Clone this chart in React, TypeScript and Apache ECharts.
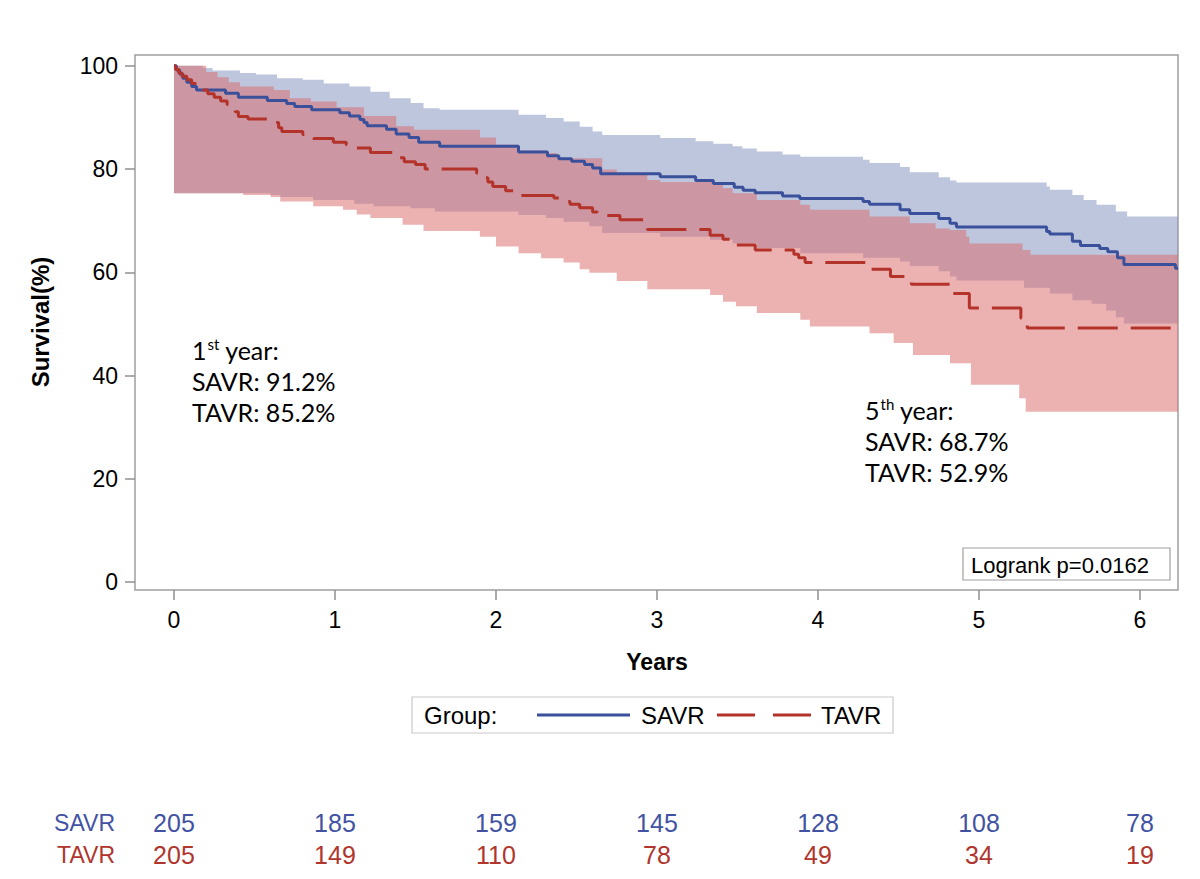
import React, { useEffect, useRef } from "react";
import * as echarts from "echarts";

// ---- data ----
const END_T = 6.236;
const yearTicks = [0, 1, 2, 3, 4, 5, 6];
const survTicks = [0, 20, 40, 60, 80, 100];

const savrLine: number[][] = [[0,100],[0.015,99.2],[0.035,98.4],[0.055,97.6],[0.08,96.8],[0.11,96.0],[0.14,95.3],[0.32,94.7],[0.40,93.9],[0.58,93.3],[0.70,92.7],[0.75,92.1],[0.855,91.5],[1.03,90.9],[1.09,90.3],[1.155,89.6],[1.18,89.0],[1.20,88.4],[1.32,87.7],[1.38,86.8],[1.46,86.1],[1.52,85.2],[1.65,84.4],[2.14,83.3],[2.32,82.6],[2.39,82.0],[2.47,81.5],[2.55,80.9],[2.60,80.2],[2.65,79.1],[3.02,78.5],[3.24,77.8],[3.35,77.2],[3.48,76.5],[3.535,75.9],[3.61,75.4],[3.78,74.8],[3.887,74.3],[4.28,73.7],[4.32,73.2],[4.51,72.1],[4.57,71.4],[4.75,70.4],[4.82,69.5],[4.86,68.8],[5.42,67.9],[5.44,67.4],[5.58,66.0],[5.63,65.2],[5.75,64.6],[5.80,64.0],[5.86,62.8],[5.90,61.5],[6.22,60.8]];

const tavrLine: number[][] = [[0,100],[0.01,99.3],[0.03,98.6],[0.05,98.0],[0.08,97.3],[0.11,96.6],[0.15,96.0],[0.18,95.3],[0.21,94.6],[0.25,93.9],[0.29,93.2],[0.33,92.5],[0.36,91.8],[0.38,91.1],[0.40,90.2],[0.46,89.7],[0.60,89.0],[0.65,88.0],[0.67,87.3],[0.80,86.7],[0.865,85.9],[0.99,85.2],[1.07,84.7],[1.135,84.1],[1.22,83.2],[1.40,82.2],[1.43,81.4],[1.50,80.9],[1.56,80.0],[1.88,79.2],[1.92,78.3],[1.95,77.5],[1.98,76.6],[2.06,75.8],[2.14,74.9],[2.36,74.4],[2.40,73.7],[2.46,73.2],[2.52,72.5],[2.60,71.7],[2.63,71.0],[2.77,70.2],[2.92,68.8],[2.94,68.3],[3.33,67.2],[3.41,66.4],[3.49,65.3],[3.61,64.3],[3.85,63.5],[3.88,62.8],[3.92,61.9],[4.32,60.6],[4.45,59.2],[4.58,57.7],[4.82,55.9],[4.94,53.1],[5.26,51.1],[5.30,49.2]];

const savrUpper: number[][] = [[0,100],[0.18,99.6],[0.24,99.1],[0.41,98.6],[0.51,98.3],[0.64,97.6],[0.80,97.3],[0.93,96.6],[1.09,96.0],[1.22,95.0],[1.34,93.7],[1.47,92.8],[1.55,91.8],[1.65,91.5],[2.14,90.5],[2.31,89.9],[2.42,89.2],[2.52,88.2],[2.60,87.3],[2.66,86.6],[3.02,86.0],[3.24,85.4],[3.35,84.9],[3.47,84.4],[3.53,84.0],[3.62,83.4],[3.78,82.8],[3.89,82.4],[4.28,81.8],[4.32,81.2],[4.51,80.4],[4.57,79.4],[4.75,78.4],[4.82,77.8],[4.86,77.4],[5.42,76.6],[5.44,76.0],[5.58,75.0],[5.65,74.0],[5.73,73.1],[5.85,71.8],[5.92,70.8]];

const savrLower: number[][] = [[0,75.3],[0.60,75.0],[0.66,74.6],[0.865,74.0],[1.12,73.3],[1.24,72.8],[1.47,72.4],[1.62,71.8],[2.14,71.1],[2.31,70.5],[2.42,69.8],[2.58,68.9],[2.66,67.6],[3.02,66.9],[3.33,66.3],[3.47,65.6],[3.62,64.7],[3.89,63.7],[4.28,62.8],[4.51,62.1],[4.57,61.2],[4.75,60.2],[4.82,59.2],[4.86,58.4],[5.28,57.0],[5.44,55.9],[5.58,54.6],[5.70,53.9],[5.79,52.6],[5.85,51.3],[5.90,50.1]];

const tavrUpper: number[][] = [[0,100],[0.20,98.8],[0.27,97.8],[0.34,96.8],[0.41,96.0],[0.62,95.3],[0.72,93.7],[0.85,93.1],[1.01,92.0],[1.18,90.3],[1.38,88.3],[1.49,87.6],[1.90,86.1],[2.00,84.7],[2.14,83.6],[2.32,83.1],[2.38,82.1],[2.66,79.9],[2.75,78.9],[2.94,77.9],[3.02,77.5],[3.41,76.3],[3.47,75.3],[3.62,74.0],[3.89,73.1],[3.95,72.1],[4.32,70.8],[4.57,69.5],[4.73,68.5],[4.82,68.2],[4.92,66.9],[4.94,65.6],[5.27,64.3],[5.32,63.4]];

const tavrLower: number[][] = [[0,75.3],[0.43,75.0],[0.60,74.6],[0.66,73.7],[0.865,72.8],[1.05,72.1],[1.135,71.2],[1.22,70.5],[1.42,69.2],[1.55,68.0],[1.90,66.9],[2.00,65.0],[2.14,63.7],[2.28,62.7],[2.42,61.9],[2.52,60.6],[2.58,59.9],[2.75,58.3],[2.94,56.7],[3.33,55.6],[3.41,54.3],[3.49,53.4],[3.62,52.1],[3.89,50.8],[3.95,49.5],[4.32,48.2],[4.47,46.3],[4.59,44.0],[4.82,42.4],[4.95,38.2],[5.25,35.6],[5.29,33.0]];

const riskGroups = ["TAVR", "SAVR"];
const savrAtRisk = [205, 185, 159, 145, 128, 108, 78];
const tavrAtRisk = [205, 149, 110, 78, 49, 34, 19];

// ---- styling ----
const X_MIN = -0.242;
const X_MAX = 6.236;
const Y_MIN = -1.55;
const Y_MAX = 102.1;
const FONT = '"Liberation Sans", Arial, Helvetica, sans-serif';
const ANNOT = 'Lato, "Open Sans", sans-serif';
const BLUE = "#3B509B";
const RED = "#B3332A";
const BLUE_TXT = "#4252A3";
const RED_TXT = "#B0352C";

function stepData(pts: number[][]) {
  const last = pts[pts.length - 1];
  return [...pts, [END_T, last[1]]];
}

function band(upper: number[][], lower: number[][], fill: string) {
  return {
    type: "custom",
    xAxisIndex: 0,
    yAxisIndex: 0,
    silent: true,
    data: [[0, 0]],
    renderItem: (_params: any, api: any) => {
      const pts: number[][] = [];
      upper.forEach(([t, v], i) => {
        const t2 = i < upper.length - 1 ? upper[i + 1][0] : END_T;
        pts.push(api.coord([t, v]), api.coord([t2, v]));
      });
      for (let i = lower.length - 1; i >= 0; i--) {
        const [t, v] = lower[i];
        const t2 = i < lower.length - 1 ? lower[i + 1][0] : END_T;
        pts.push(api.coord([t2, v]), api.coord([t, v]));
      }
      return { type: "polygon", shape: { points: pts }, style: { fill } };
    },
  };
}

function txt(x: number, y: number, text: string, font: string, extra: any = {}) {
  return {
    type: "text",
    x,
    y,
    z: 10,
    ...extra,
    style: {
      text,
      font,
      fill: "#000",
      textAlign: "left",
      textVerticalAlign: "middle",
      align: "left",
      verticalAlign: "middle",
      ...(extra.style || {}),
    },
  };
}

function riskSeries(group: string, counts: number[], color: string) {
  return {
    type: "scatter",
    xAxisIndex: 1,
    yAxisIndex: 1,
    symbolSize: 1,
    silent: true,
    itemStyle: { color: "rgba(0,0,0,0)", opacity: 1 },
    label: {
      show: true,
      position: "inside",
      formatter: (p: any) => String(p.value[2]),
      color,
      opacity: 1,
      fontSize: 25,
      fontFamily: FONT,
    },
    data: yearTicks.map((t, i) => [t, group, counts[i]]),
  };
}

const annotRich = {
  n: { fontSize: 25, fontFamily: ANNOT, color: "#000", lineHeight: 31 },
  s: { fontSize: 15, fontFamily: ANNOT, color: "#000", verticalAlign: "top", lineHeight: 18, padding: [2, 0, 0, 1] },
};

function annotation(x: number, yCenter: number, ordinal: string, suffix: string, savr: string, tavr: string) {
  return {
    type: "text",
    x,
    y: yCenter,
    z: 10,
    style: {
      text: `{n|${ordinal}}{s|${suffix}}{n| year:}\n{n|SAVR: ${savr}}\n{n|TAVR: ${tavr}}`,
      rich: annotRich,
      textAlign: "left",
      align: "left",
      textVerticalAlign: "middle",
      verticalAlign: "middle",
    },
  };
}

export default function App() {
  const ref = useRef<HTMLDivElement>(null);
  useEffect(() => {
    if (!ref.current) return;
    const chart = echarts.init(ref.current, undefined, { renderer: "svg" });
    const option: any = {
      animation: false,
      grid: [
        { left: 135, top: 55, right: 22, bottom: 289, show: true, borderColor: "#9f9f9f", borderWidth: 1.5, backgroundColor: "transparent" },
        { left: 135, right: 22, top: 807, height: 64 },
      ],
      xAxis: [
        {
          type: "value",
          gridIndex: 0,
          min: X_MIN,
          max: X_MAX,
          axisLine: { show: false, onZero: false },
          splitLine: { show: false },
          axisTick: { show: true, length: 10, customValues: yearTicks, lineStyle: { color: "#8f8f8f", width: 1.5 } },
          axisLabel: { customValues: yearTicks, margin: 18, fontSize: 23, color: "#000", fontFamily: FONT },
        },
        { type: "value", gridIndex: 1, min: X_MIN, max: X_MAX, show: false },
      ],
      yAxis: [
        {
          type: "value",
          gridIndex: 0,
          min: Y_MIN,
          max: Y_MAX,
          axisLine: { show: false, onZero: false },
          splitLine: { show: false },
          axisTick: { show: true, length: 10, customValues: survTicks, lineStyle: { color: "#8f8f8f", width: 1.5 } },
          axisLabel: { customValues: survTicks, margin: 17, fontSize: 23, color: "#000", fontFamily: FONT },
        },
        {
          type: "category",
          gridIndex: 1,
          data: riskGroups,
          axisLine: { show: false, onZero: false },
          axisTick: { show: false },
          splitLine: { show: false },
          axisLabel: {
            margin: 20,
            formatter: (v: string) => `{${v.toLowerCase()}|${v}}`,
            rich: {
              savr: { color: BLUE_TXT, fontSize: 23, fontFamily: FONT },
              tavr: { color: RED_TXT, fontSize: 23, fontFamily: FONT },
            },
          },
        },
      ],
      series: [
        band(savrUpper, savrLower, "rgba(125,141,189,0.5)"),
        band(tavrUpper, tavrLower, "rgba(217,101,101,0.5)"),
        {
          type: "line",
          name: "SAVR",
          xAxisIndex: 0,
          yAxisIndex: 0,
          data: stepData(savrLine),
          step: "end",
          symbol: "none",
          silent: true,
          lineStyle: { color: BLUE, width: 3 },
        },
        {
          type: "line",
          name: "TAVR",
          xAxisIndex: 0,
          yAxisIndex: 0,
          data: stepData(tavrLine),
          step: "end",
          symbol: "none",
          silent: true,
          lineStyle: { color: RED, width: 3, type: [40, 13] },
        },
        riskSeries("SAVR", savrAtRisk, BLUE_TXT),
        riskSeries("TAVR", tavrAtRisk, RED_TXT),
      ],
      graphic: [
        txt(40, 322, "Survival(%)", `bold 24px ${FONT}`, { rotation: Math.PI / 2, style: { textAlign: "center", align: "center" } }),
        txt(657, 662, "Years", `bold 23px ${FONT}`, { style: { textAlign: "center", align: "center" } }),
        // legend
        { type: "rect", z: 9, shape: { x: 412, y: 697, width: 481, height: 36 }, style: { fill: "#fff", stroke: "#c9c9c9", lineWidth: 1.2 } },
        txt(424, 715, "Group:", `24px ${FONT}`),
        { type: "line", z: 10, shape: { x1: 537, y1: 715, x2: 630, y2: 715 }, style: { stroke: BLUE, lineWidth: 3 } },
        txt(641, 715, "SAVR", `24px ${FONT}`),
        { type: "line", z: 10, shape: { x1: 717, y1: 715, x2: 811, y2: 715 }, style: { stroke: RED, lineWidth: 3, lineDash: [38, 18] } },
        txt(821, 715, "TAVR", `24px ${FONT}`),
        // logrank box
        { type: "rect", z: 9, shape: { x: 963, y: 548, width: 207, height: 32 }, style: { fill: "#fff", stroke: "#9f9f9f", lineWidth: 1.2 } },
        txt(971, 565, "Logrank p=0.0162", `22px ${FONT}`),
        // annotations
        annotation(192, 381, "1", "st", "91.2%", "85.2%"),
        annotation(865, 441, "5", "th", "68.7%", "52.9%"),
      ],
    };
    chart.setOption(option);
    return () => chart.dispose();
  }, []);
  return <div ref={ref} style={{ position: "absolute", left: 0, top: 0, width: 1200, height: 879, background: "#fff" }} />;
}
